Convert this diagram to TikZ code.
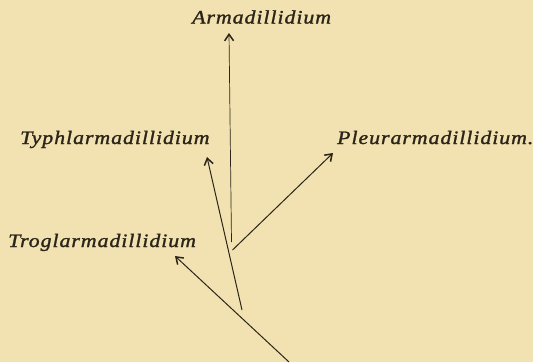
\documentclass[tikz,border=0pt]{standalone}
\usepackage{fontspec}
\setmainfont{Liberation Serif}
\newfontfamily\taxonfont[FakeStretch=1.15, FakeBold=1.4, LetterSpace=5]{Liberation Serif Italic}
\usetikzlibrary{arrows.meta}
\definecolor{paper}{HTML}{F2E2B2}
\definecolor{ink}{HTML}{2B2418}
\tikzset{
  taxon/.style={inner sep=0pt, anchor=base west, text=ink,
    font=\fontsize{19}{21}\selectfont\taxonfont},
  branch/.style={draw=ink, line width=1pt, -{Straight Barb[length=6.5pt,width=9pt,line width=1.5pt]}},
}
\begin{document}
\begin{tikzpicture}[x=1pt,y=-1pt]
\fill[paper] (0,0) rectangle (533,362);
\useasboundingbox (0,0) rectangle (533,362);
\node[taxon] (arm) at (192,23.5) {Armadillidium};
\node[taxon] (typ) at (20,144) {Typhlarmadillidium};
\node[taxon] (ple) at (337,144) {Pleurarmadillidium.};
\node[taxon] (tro) at (8,247) {Troglarmadillidium};
\coordinate (rArm) at (231.5,242);
\coordinate (tArm) at (229,33);
\coordinate (rPle) at (232.5,250);
\coordinate (tPle) at (333,153);
\coordinate (rTyp) at (242,310);
\coordinate (tTyp) at (207,157);
\coordinate (rTro) at (289,362);
\coordinate (tTro) at (175,256);
\draw[branch, line width=0.7pt] (rArm) -- (tArm);
\draw[branch] (rPle) -- (tPle);
\draw[branch] (rTyp) -- (tTyp);
\draw[branch] (rTro) -- (tTro);
\end{tikzpicture}
\end{document}
